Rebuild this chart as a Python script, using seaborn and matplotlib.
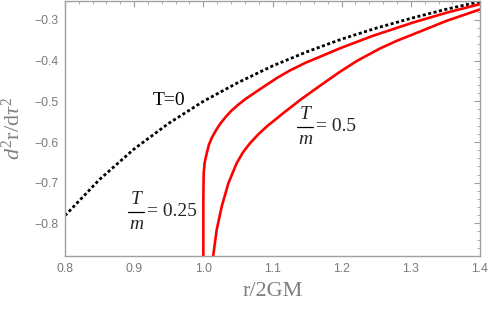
import matplotlib
matplotlib.use("Agg")
import matplotlib.pyplot as plt
import seaborn as sns
import pandas as pd
from matplotlib.ticker import MultipleLocator

# --- data ---
r_t0 = [0.80, 0.85, 0.90, 0.95, 1.00, 1.05, 1.10, 1.15, 1.20, 1.25, 1.30, 1.35, 1.40]
a_t0 = [-0.781, -0.692, -0.617, -0.554, -0.500, -0.454, -0.413, -0.378, -0.347, -0.320, -0.296, -0.274, -0.255]

r_025 = [1.0000, 1.0000, 1.0005, 1.0020, 1.0049, 1.0080, 1.0121, 1.0180, 1.0241, 1.0320,
         1.0400, 1.0500, 1.0620, 1.0750, 1.0900, 1.1070, 1.1253, 1.1480, 1.1734, 1.1970,
         1.2217, 1.2450, 1.2699, 1.3036, 1.3518, 1.4000]
a_025 = [-0.900, -0.740, -0.677, -0.650, -0.628, -0.607, -0.590, -0.572, -0.556, -0.539,
         -0.524, -0.509, -0.493, -0.478, -0.461, -0.442, -0.424, -0.405, -0.387, -0.370,
         -0.354, -0.339, -0.325, -0.306, -0.282, -0.261]

r_05 = [1.0135, 1.0144, 1.0193, 1.0265, 1.0361, 1.0482, 1.0575, 1.0675, 1.0790, 1.0916,
        1.1156, 1.1397, 1.1560, 1.1734, 1.1970, 1.2217, 1.2554, 1.2800, 1.3036, 1.3518, 1.4000]
a_05 = [-0.900, -0.878, -0.816, -0.759, -0.702, -0.652, -0.625, -0.603, -0.582, -0.562,
        -0.529, -0.497, -0.477, -0.456, -0.428, -0.401, -0.370, -0.351, -0.335, -0.302, -0.274]

x_ticks = [0.8, 0.9, 1.0, 1.1, 1.2, 1.3, 1.4]
y_ticks = [-0.8, -0.7, -0.6, -0.5, -0.4, -0.3]

df0 = pd.DataFrame({"r": r_t0, "a": a_t0})
df1 = pd.DataFrame({"r": r_025, "a": a_025})
df2 = pd.DataFrame({"r": r_05, "a": a_05})

sns.set_style("white")
plt.rcParams["mathtext.fontset"] = "custom"
plt.rcParams["mathtext.rm"] = "Liberation Serif"
plt.rcParams["mathtext.it"] = "Liberation Serif:italic"
plt.rcParams["mathtext.bf"] = "Liberation Serif:bold"

fig = plt.figure(figsize=(4.91, 3.09), dpi=100)
ax = fig.add_axes([65 / 491, 1 - 256 / 309, 415 / 491, 255 / 309])

sns.lineplot(data=df0, x="r", y="a", ax=ax, color="black", lw=2.0,
             linestyle=(0, (1.1, 0.9)), sort=False, estimator=None)
sns.lineplot(data=df1, x="r", y="a", ax=ax, color="#ff0000", lw=1.9,
             sort=False, estimator=None)
sns.lineplot(data=df2, x="r", y="a", ax=ax, color="#ff0000", lw=1.9,
             sort=False, estimator=None)

ax.set_xlim(0.8, 1.4)
ax.set_ylim(-0.8803, -0.2533)

for s in ax.spines.values():
    s.set_color("#a0a0a0")
    s.set_linewidth(1.0)

ax.set_xticks(x_ticks)
ax.set_xticklabels([f"{v:.1f}" for v in x_ticks])
ax.set_yticks(y_ticks)
ax.set_yticklabels([f"\u2212{abs(v):.1f}" for v in y_ticks])
ax.xaxis.set_minor_locator(MultipleLocator(0.02))
ax.yaxis.set_minor_locator(MultipleLocator(0.02))
ax.tick_params(which="both", direction="in", top=True, right=True,
               color="#a0a0a0", labelcolor="#7a7a7a", labelsize=8.8)
ax.tick_params(which="major", length=4.5, width=0.8, pad=5)
ax.tick_params(which="minor", length=2.5, width=0.6)
ax.tick_params(axis="x", labeltop=False)
ax.tick_params(axis="y", labelright=False)
for lab in ax.get_xticklabels() + ax.get_yticklabels():
    lab.set_family("Liberation Sans")

ax.set_xlabel("r/2GM", family="Liberation Serif", fontsize=16, color="#808080")
ax.set_ylabel(r"$d^{2}\mathrm{r/d}\tau^{2}$", fontsize=16, color="#808080")
ax.xaxis.set_label_coords(0.5, -0.10)
ax.yaxis.set_label_coords(-0.10, 0.5)

serif = "Liberation Serif"
ax.text(0.950, -0.499, "T=0", family=serif, fontsize=14, color="black",
        ha="center", va="center")


def frac_label(xc, ybar, half_w, value, xr):
    ax.text(xc, ybar + 0.010, "T", family=serif, style="italic", fontsize=14,
            ha="center", va="bottom")
    ax.text(xc, ybar - 0.010, "m", family=serif, style="italic", fontsize=14,
            ha="center", va="top")
    ax.plot([xc - half_w, xc + half_w], [ybar, ybar], color="black", lw=0.9)
    ax.text(xr, ybar, "= " + value, family=serif, fontsize=14,
            ha="left", va="center")


frac_label(0.9025, -0.772, 0.0120, "0.25", 0.9185)
frac_label(1.1470, -0.563, 0.0120, "0.5", 1.1629)

fig.savefig("out.png", dpi=100)
